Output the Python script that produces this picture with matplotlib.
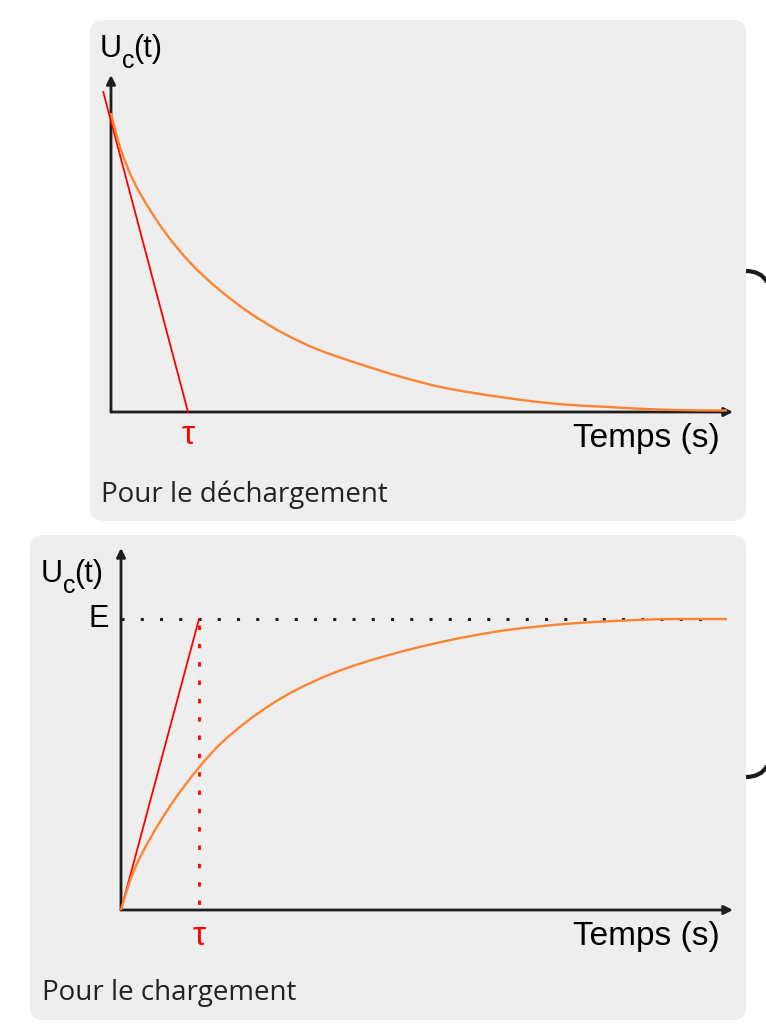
import numpy as np
import matplotlib
matplotlib.use("Agg")
import matplotlib.pyplot as plt
from matplotlib.patches import FancyBboxPatch, PathPatch
from matplotlib.path import Path

W, H, DPI = 766, 1031, 100

plt.rcParams["font.family"] = ["Liberation Sans", "DejaVu Sans"]

# discharge: t in units of tau, U normalised to U(0)
t_dech = [0, 0.117, 0.286, 0.506, 0.727, 1.026, 1.377, 1.805, 2.234, 2.675, 3.104, 3.403,
          3.844, 4.273, 4.701, 5.143, 5.571, 6.0, 6.442, 6.870, 7.299, 8.0]
u_dech = [1.0, 0.886, 0.776, 0.676, 0.592, 0.500, 0.415, 0.331, 0.264, 0.210, 0.171, 0.146,
          0.112, 0.084, 0.064, 0.047, 0.033, 0.023, 0.017, 0.011, 0.007, 0.005]
tangent_dech_t = [-0.10, 1.0]
tangent_dech_u = [1.07, 0.0]

# charge: t in units of tau, U normalised to E
t_ch = [0, 0.158, 0.372, 0.650, 1.0, 1.291, 1.888, 2.252, 2.701, 3.128, 3.667,
        4.090, 4.513, 4.949, 5.372, 5.795, 6.231, 6.654, 7.077, 7.769]
u_ch = [0, 0.130, 0.245, 0.365, 0.490, 0.575, 0.700, 0.757, 0.812, 0.852, 0.893,
        0.920, 0.943, 0.962, 0.975, 0.985, 0.992, 0.997, 1.0, 1.0]
tangent_ch_t = [0, 1.0]
tangent_ch_u = [0, 1.0]
E_LEVEL = 1.0
TAU = 1.0

ORANGE = "#ff8330"
RED = "#ff0000"
AXIS = "#1e1e1e"
PANEL = "#eeeeee"
NOTE = "#222222"


def frac(x, y):
    return x / W, 1 - y / H


def ax_rect(left, top, right, bottom):
    return [left / W, 1 - bottom / H, (right - left) / W, (bottom - top) / H]


def draw_axes(ax, xmax, ymax):
    for s in ax.spines.values():
        s.set_visible(False)
    ax.set_xticks([]); ax.set_yticks([])
    ax.patch.set_alpha(0)
    ax.set_xlim(0, xmax); ax.set_ylim(0, ymax)
    arrow = dict(arrowstyle="-|>", lw=2.0, color=AXIS, mutation_scale=13,
                 shrinkA=0, shrinkB=0)
    ax.annotate("", xy=(xmax, 0), xytext=(0, 0), arrowprops=arrow, zorder=2,
                annotation_clip=False)
    ax.annotate("", xy=(0, ymax), xytext=(0, 0), arrowprops=arrow, zorder=2,
                annotation_clip=False)


def smooth_curve(ax, x, y, **kw):
    # monotone cubic (pchip-style) through the read points, drawn as beziers
    x = np.asarray(x, float); y = np.asarray(y, float)
    h = np.diff(x); d = np.diff(y) / h
    m = np.zeros_like(x)
    for i in range(1, len(x) - 1):
        if d[i - 1] * d[i] > 0:
            w1, w2 = 2 * h[i] + h[i - 1], h[i] + 2 * h[i - 1]
            m[i] = (w1 + w2) / (w1 / d[i - 1] + w2 / d[i])
    m[0] = ((2 * h[0] + h[1]) * d[0] - h[0] * d[1]) / (h[0] + h[1])
    m[-1] = ((2 * h[-1] + h[-2]) * d[-1] - h[-1] * d[-2]) / (h[-1] + h[-2])
    if m[-1] * d[-1] <= 0:
        m[-1] = 0
    verts, codes = [(x[0], y[0])], [Path.MOVETO]
    for i in range(len(x) - 1):
        verts += [(x[i] + h[i] / 3, y[i] + m[i] * h[i] / 3),
                  (x[i + 1] - h[i] / 3, y[i + 1] - m[i + 1] * h[i] / 3),
                  (x[i + 1], y[i + 1])]
        codes += [Path.CURVE4] * 3
    ax.add_patch(PathPatch(Path(verts, codes), fill=False, clip_on=False, **kw))


def uc_label(x, y):
    fig.text(*frac(x, y), "U", fontsize=22, ha="left", va="baseline")
    fig.text(*frac(x + 22, y + 11), "c", fontsize=18, ha="left", va="baseline")
    fig.text(*frac(x + 33, y), "(t)", fontsize=22, ha="left", va="baseline")


fig = plt.figure(figsize=(W / DPI, H / DPI), dpi=DPI)

# grey rounded panels
for x0, y0, x1, y1 in [(90, 20, 746, 521), (30, 535, 746, 1020)]:
    fig.add_artist(FancyBboxPatch(
        (x0 / DPI, (H - y1) / DPI), (x1 - x0) / DPI, (y1 - y0) / DPI,
        boxstyle="round,pad=0,rounding_size=0.13", transform=fig.dpi_scale_trans,
        facecolor=PANEL, edgecolor="none", zorder=0))

# bits of a bracket on the right edge
for pts in [[(746, 271), (761, 271), (767, 282)], [(746, 777), (761, 777), (767, 766)]]:
    verts = [(x / DPI, (H - y) / DPI) for x, y in pts]
    fig.add_artist(PathPatch(Path(verts, [Path.MOVETO, Path.CURVE3, Path.CURVE3]),
                             transform=fig.dpi_scale_trans, fill=False,
                             edgecolor="#1a1a1a", lw=3.0, zorder=1))

# --- discharge ---
ax1 = fig.add_axes(ax_rect(111, 75, 733, 412))
draw_axes(ax1, (733 - 111) / 77, (412 - 75) / 299)
ax1.plot(tangent_dech_t, tangent_dech_u, color=RED, lw=1.3, clip_on=False, zorder=3)
smooth_curve(ax1, t_dech, u_dech, edgecolor=ORANGE, lw=1.7, zorder=4)
ax1.text(TAU, -0.08, "τ", color=RED, fontsize=24, ha="center", va="center")

uc_label(100, 57)
fig.text(*frac(720, 447), "Temps (s)", fontsize=24, ha="right", va="baseline")
fig.text(*frac(101, 502), "Pour le déchargement", fontsize=20, ha="left",
         va="baseline", color=NOTE, family="Open Sans")

# --- charge ---
ax2 = fig.add_axes(ax_rect(121, 548, 733, 910))
draw_axes(ax2, (733 - 121) / 78, (910 - 548) / 291)
ax2.plot([0, 7.6], [E_LEVEL, E_LEVEL], color=AXIS, lw=2.2, ls=(0, (1, 5.3)),
         dash_capstyle="butt", zorder=2)
ax2.plot([TAU, TAU], [E_LEVEL - 0.02, -0.015], color=RED, lw=2.0, ls=(0, (1.6, 5.0)),
         dash_capstyle="butt", clip_on=False, zorder=2)
ax2.plot(tangent_ch_t, tangent_ch_u, color=RED, lw=1.3, clip_on=False, zorder=3)
smooth_curve(ax2, t_ch, u_ch, edgecolor=ORANGE, lw=1.7, zorder=4)
ax2.text(TAU, -0.09, "τ", color=RED, fontsize=24, ha="center", va="center")
ax2.text(-0.15, E_LEVEL, "E", fontsize=22, ha="right", va="center")

uc_label(41, 582)
fig.text(*frac(720, 945), "Temps (s)", fontsize=24, ha="right", va="baseline")
fig.text(*frac(42, 1000), "Pour le chargement", fontsize=20, ha="left",
         va="baseline", color=NOTE, family="Open Sans")

fig.savefig("out.png", dpi=DPI)
